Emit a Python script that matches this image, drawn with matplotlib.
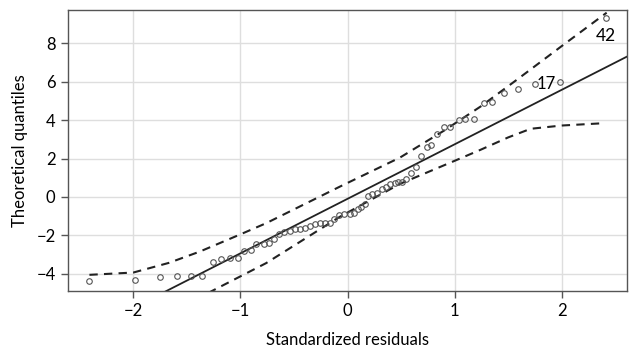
import matplotlib
matplotlib.use("Agg")
import matplotlib.pyplot as plt
import numpy as np

plt.rcParams['font.family'] = ['Lato', 'DejaVu Sans']

# standardized residuals (x) vs theoretical quantiles (y)
resid = [-2.41, -1.98, -1.75, -1.59, -1.46, -1.36, -1.26, -1.18, -1.10, -1.02,
         -0.97, -0.90, -0.85, -0.78, -0.73, -0.69, -0.64, -0.59, -0.54, -0.49,
         -0.44, -0.40, -0.35, -0.30, -0.26, -0.21, -0.16, -0.13, -0.08, -0.03,
         0.02, 0.06, 0.10, 0.13, 0.16, 0.19, 0.23, 0.28, 0.32, 0.36,
         0.40, 0.44, 0.47, 0.51, 0.55, 0.59, 0.64, 0.69, 0.74, 0.78,
         0.84, 0.90, 0.96, 1.04, 1.10, 1.18, 1.27, 1.35, 1.46, 1.59,
         1.75, 1.98, 2.41]
quant = [-4.40, -4.31, -4.19, -4.14, -4.10, -4.12, -3.40, -3.26, -3.19, -3.19,
         -2.81, -2.77, -2.46, -2.44, -2.39, -2.21, -1.92, -1.81, -1.76, -1.69,
         -1.66, -1.61, -1.52, -1.43, -1.38, -1.34, -1.34, -1.17, -0.96, -0.89,
         -0.89, -0.85, -0.64, -0.54, -0.37, 0.07, 0.14, 0.23, 0.40, 0.54,
         0.66, 0.72, 0.77, 0.77, 0.93, 1.24, 1.55, 2.11, 2.60, 2.69,
         3.28, 3.65, 3.65, 4.03, 4.07, 4.07, 4.91, 4.97, 5.39, 5.64,
         5.88, 5.98, 9.30]

# reference line
line_intercept = -0.10
line_slope = 2.84

# confidence envelope
upper_x = [-2.41, -2.00, -1.67, -1.38, -1.00, -0.76, -0.07, 0.49, 0.90, 1.24, 1.58, 2.01, 2.42]
upper_y = [-4.06, -3.94, -3.44, -2.85, -1.95, -1.37, 0.54, 2.05, 3.45, 4.70, 6.10, 7.90, 9.60]
lower_x = [-1.30, -0.76, -0.07, 0.49, 1.00, 1.24, 1.50, 1.71, 2.00, 2.39]
lower_y = [-5.00, -3.45, -1.03, 0.68, 1.88, 2.45, 3.10, 3.55, 3.72, 3.84]

labels = {42: (2.41, 9.30), 17: (1.98, 5.98)}

fig = plt.figure(figsize=(6.32, 3.57), dpi=100)
ax = fig.add_axes([0.1076, 0.185, 0.8845, 0.787])

ax.set_xlim(-2.61, 2.61)
ax.set_ylim(-4.9, 9.74)
ax.set_xticks([-2, -1, 0, 1, 2])
ax.set_yticks([-4, -2, 0, 2, 4, 6, 8])
ax.grid(True, color='#dedede', linewidth=1.0)
ax.set_axisbelow(True)

xx = np.array(ax.get_xlim())
ax.plot(xx, line_intercept + line_slope * xx, color='#222222', linewidth=1.3)
ax.plot(upper_x, upper_y, color='#222222', linewidth=1.5, linestyle=(0, (4, 3)))
ax.plot(lower_x, lower_y, color='#222222', linewidth=1.5, linestyle=(0, (4, 3)))
ax.plot(resid, quant, linestyle='none', marker='o', markersize=4,
        markerfacecolor='none', markeredgecolor='#555555', markeredgewidth=0.8)

ax.text(labels[42][0], labels[42][1] - 0.5, '42', fontsize=12.5, ha='center', va='top')
ax.text(labels[17][0] - 0.035, labels[17][1] - 0.1, '17', fontsize=12, ha='right', va='center')

for s in ax.spines.values():
    s.set_color('#555555')
    s.set_linewidth(1.0)
ax.tick_params(direction='out', length=5, width=1, color='#555555', labelsize=12, pad=4)

ax.set_xlabel('Standardized residuals', fontsize=12, labelpad=9)
ax.set_ylabel('Theoretical quantiles', fontsize=12, labelpad=6)

fig.savefig('out.png', dpi=100)
